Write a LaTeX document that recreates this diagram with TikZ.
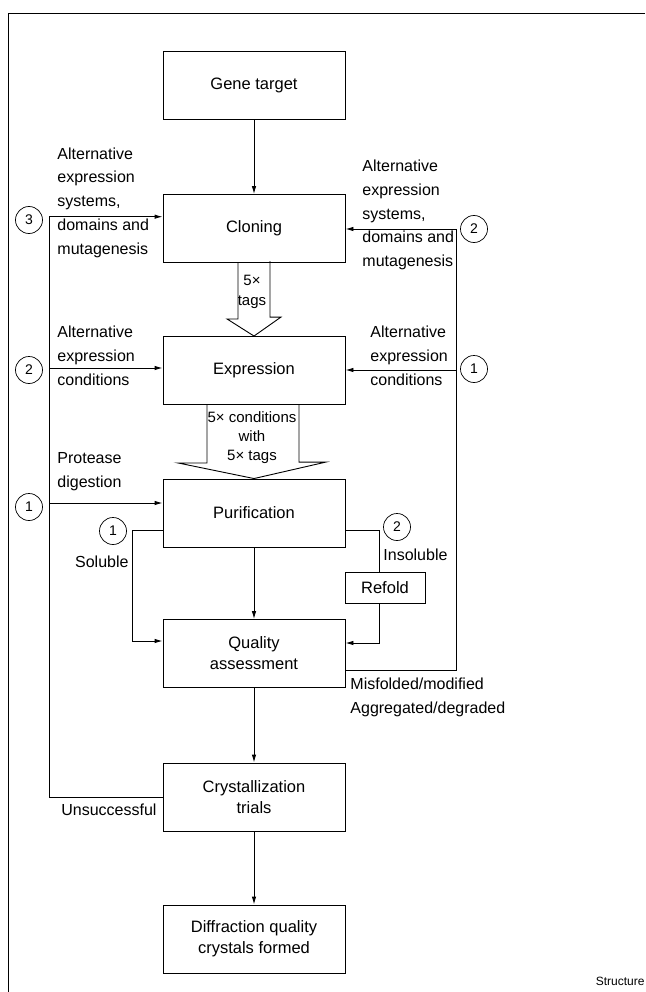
\documentclass[tikz,border=0pt]{standalone}
\usepackage{fontspec}
\setmainfont{Liberation Sans}
\usetikzlibrary{arrows.meta}

\begin{document}
\begin{tikzpicture}[x=1pt,y=-1pt,line width=0.9pt,
    box/.style={draw,minimum width=182pt,minimum height=68pt,inner sep=0pt,
      align=center,font=\fontsize{16.5}{21}\selectfont},
    lbl/.style={inner sep=0pt,align=left,font=\fontsize{16}{23.8}\selectfont},
    num/.style={draw,circle,minimum size=27pt,inner sep=0pt,line width=0.7pt,
      font=\fontsize{14}{14}\selectfont},
    arr/.style={-{Latex[length=8pt,width=4.5pt]}}]
    \useasboundingbox (0,0) rectangle (645,992);
    % frame
    \draw[line width=0.8pt] (645,13) -- (8,13) -- (8,992);
    % main column
    \node[box] (gene) at (254,85) {Gene target};
    \node[box] (clone) at (254,228.5) {Cloning};
    \node[box] (expr) at (254,370.5) {Expression};
    \node[box] (purif) at (254,513) {Purification};
    \node[box] (qual) at (254,653.5) {Quality\\assessment};
    \node[box] (crys) at (254,797) {Crystallization\\trials};
    \node[box] (diff) at (254,939) {Diffraction quality\\crystals formed};
    \node[draw,minimum width=80pt,minimum height=31pt,inner sep=0pt,
      font=\fontsize{16.5}{20}\selectfont] (refold) at (385,587.5) {Refold};
    \draw[arr] (gene) -- (clone);
    \draw[arr] (purif) -- (qual);
    \draw[arr] (qual) -- (crys);
    \draw[arr] (crys) -- (diff);
    % hollow arrows
    \draw[line join=miter] (clone.south) ++(-16,0) -- ++(0,56) -- ++(-11,0)
      -- (expr.north) -- ++(27,-19) -- ++(-11,0) -- ++(0,-56);
    \node[inner sep=0pt,align=center,font=\fontsize{15}{20}\selectfont] (tagsa)
      at (252,292) {5×\\tags};
    \draw[line join=miter] (expr.south) ++(-47,0) -- ++(0,58) -- ++(-29,0)
      -- (purif.north) -- ++(72,-16.5) -- ++(-27,0) -- ++(0,-58);
    \node[inner sep=0pt,align=center,font=\fontsize{15}{19}\selectfont] (tagsb)
      at (252,438) {5× conditions\\with\\5× tags};
    % left loop
    \coordinate (lt) at (49,216.7);
    \coordinate (l2) at (49,368);
    \coordinate (l1) at (49,503);
    \draw[arr] (crys.west) -- (crys.west -| lt) -- (lt) -- (lt -| clone.west);
    \draw[arr] (l2) -- (l2 -| expr.west);
    \draw[arr] (l1) -- (l1 -| purif.west);
    \node[num] (nl3) at (29,220) {3};
    \node[num] (nl2) at (29,370) {2};
    \node[num] (nl1) at (29,507) {1};
    \node[lbl,anchor=west] (altl) at (57,202.5)
      {Alternative\\expression\\systems,\\domains and\\mutagenesis};
    \node[lbl,anchor=west] (condl) at (57,356) {Alternative\\expression\\conditions};
    \node[lbl,anchor=west] (prot) at (57,472) {Protease\\digestion};
    \node[lbl,anchor=east] (unsucc) at (157,810) {Unsuccessful};
    % right loop
    \coordinate (rt) at (456,229);
    \coordinate (rb) at (456,670);
    \coordinate (r1) at (456,370);
    \draw[arr] (rb -| qual.east) -- (rb) -- (rt) -- (rt -| clone.east);
    \draw[arr] (r1) -- (r1 -| expr.east);
    \node[num] (nr2) at (474,229) {2};
    \node[num] (nr1) at (474,369) {1};
    \node[lbl,anchor=west] (altr) at (362,215)
      {Alternative\\expression\\systems,\\domains and\\mutagenesis};
    \node[lbl,anchor=west] (condr) at (370,356) {Alternative\\expression\\conditions};
    \node[lbl,anchor=west] (misf) at (350,697.5) {Misfolded/modified\\Aggregated/degraded};
    % soluble / insoluble
    \coordinate (sl) at (132,530);
    \coordinate (sb) at (132,641);
    \draw[arr] (sl -| purif.west) -- (sl) -- (sb) -- (sb -| qual.west);
    \node[num] (ns1) at (113,531) {1};
    \node[lbl,anchor=east] (sol) at (129,562) {Soluble};
    \coordinate (il) at (379,530);
    \coordinate (ib) at (379,643);
    \draw (il -| purif.east) -- (il) -- (il |- refold.north);
    \draw[arr] (ib |- refold.south) -- (ib) -- (ib -| qual.east);
    \node[num] (ni2) at (397,527) {2};
    \node[lbl,anchor=west] (insol) at (383,555) {Insoluble};
    \node[inner sep=0pt,anchor=east,font=\fontsize{12}{12}\selectfont] (src)
      at (645,981) {Structure};
\end{tikzpicture}
\end{document}
